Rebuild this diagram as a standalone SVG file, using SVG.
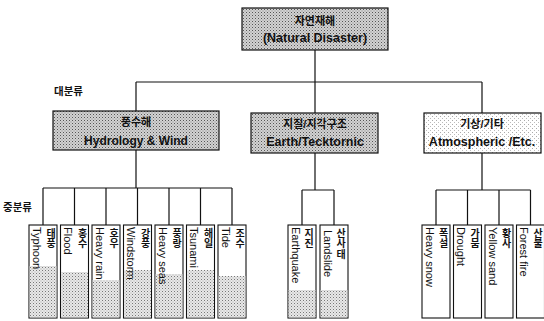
<svg xmlns="http://www.w3.org/2000/svg" width="544" height="321" viewBox="0 0 544 321">
<style>
.kb{font-family:"Liberation Sans","Noto Sans CJK KR",sans-serif;font-weight:bold;fill:#111;text-anchor:middle}
.en{font-family:"Liberation Sans","Noto Sans CJK KR",sans-serif;font-weight:bold;fill:#111;text-anchor:middle}
.lv{font-family:"Noto Sans CJK KR","Liberation Sans",sans-serif;font-weight:bold;font-size:10.5px;fill:#111}
.ko{font-family:"Noto Sans CJK KR","Liberation Sans",sans-serif;font-size:10px;font-weight:bold;fill:#111;writing-mode:vertical-rl;letter-spacing:0.5px}
.le{font-family:"Liberation Sans","Noto Sans CJK KR",sans-serif;font-size:11px;fill:#111}
.box{stroke:#111;stroke-width:1.2}
.leaf{fill:#fff;stroke:#111;stroke-width:1.1}
.conn{fill:none;stroke:#111;stroke-width:1.2}
</style>
<defs>
<pattern id="dark" width="3" height="3" patternUnits="userSpaceOnUse">
<rect width="3" height="3" fill="#d2d2d2"/>
<rect width="1" height="1" fill="#555"/>
<rect x="1.5" y="1.5" width="1" height="1" fill="#888"/>
</pattern>
<pattern id="light" width="4" height="4" patternUnits="userSpaceOnUse">
<rect width="4" height="4" fill="#fff"/>
<rect width="1" height="1" fill="#aaa"/>
<rect x="2" y="2" width="1" height="1" fill="#bbb"/>
</pattern>
<pattern id="mid" width="3" height="3" patternUnits="userSpaceOnUse">
<rect width="3" height="3" fill="#e8e8e8"/>
<rect width="1" height="1" fill="#777"/>
<rect x="1.5" y="1.5" width="1" height="1" fill="#aaa"/>
</pattern>
</defs>

<g id="connectors">
<path class="conn" d="M315 50 V113 M136 82 H482 M136 82 V111 M482 82 V113"/>
<path class="conn" d="M136 150 V188 M43 188 H232 M43 188 V225 M74.5 188 V225 M106 188 V225 M137.5 188 V225 M169 188 V225 M200.5 188 V225 M232 188 V225"/>
<path class="conn" d="M315 153 V190 M302 190 H334 M302 190 V225 M334 190 V225"/>
<path class="conn" d="M482 153 V190 M436 190 H530.5 M436 190 V225 M467.5 190 V225 M499 190 V225 M530.5 190 V225"/>
</g>

<g id="levels">
<text class="lv" x="54" y="95">대분류</text>
<text class="lv" x="3" y="211">중분류</text>
</g>

<g id="root">
<rect class="box" x="242" y="8" width="146" height="42" fill="url(#dark)"/>
<text class="kb" x="315" y="25" font-size="11">자연재해</text>
<text class="en" x="315" y="42" font-size="12.5">(Natural Disaster)</text>
</g>

<g id="cat-hydro">
<rect class="box" x="53" y="111" width="166" height="39" fill="url(#dark)"/>
<text class="kb" x="136" y="126" font-size="11">풍수해</text>
<text class="en" x="136" y="145" font-size="12">Hydrology &amp; Wind</text>
</g>
<g id="cat-earth">
<rect class="box" x="251" y="113" width="127" height="40" fill="url(#dark)"/>
<text class="kb" x="315" y="128" font-size="11">지질/지각구조</text>
<text class="en" x="315" y="146" font-size="12.5">Earth/Tecktornic</text>
</g>
<g id="cat-atmos">
<rect class="box" x="424" y="113" width="117" height="40" fill="url(#light)"/>
<text class="kb" x="482" y="128" font-size="11">기상/기타</text>
<text class="en" x="482" y="146" font-size="12.5">Atmospheric /Etc.</text>
</g>

<g id="leaf-typhoon">
<rect class="leaf" x="29" y="225" width="28" height="93"/>
<rect x="29.6" y="266" width="26.8" height="51.4" fill="url(#mid)"/>
<text class="le" x="32.5" y="227" transform="rotate(90 32.5 227)">Typhoon</text>
<text class="ko" x="51" y="228">태풍</text>
</g>
<g id="leaf-flood">
<rect class="leaf" x="60.5" y="225" width="28" height="93"/>
<rect x="61.1" y="272" width="26.8" height="45.4" fill="url(#mid)"/>
<text class="le" x="64" y="227" transform="rotate(90 64 227)">Flood</text>
<text class="ko" x="82.5" y="228">홍수</text>
</g>
<g id="leaf-heavyrain">
<rect class="leaf" x="92" y="225" width="28" height="93"/>
<rect x="92.6" y="280" width="26.8" height="37.4" fill="url(#mid)"/>
<text class="le" x="95.5" y="227" transform="rotate(90 95.5 227)">Heavy rain</text>
<text class="ko" x="114" y="228">호우</text>
</g>
<g id="leaf-windstorm">
<rect class="leaf" x="123.5" y="225" width="28" height="93"/>
<rect x="124.1" y="270" width="26.8" height="47.4" fill="url(#mid)"/>
<text class="le" x="127" y="227" transform="rotate(90 127 227)">Windstorm</text>
<text class="ko" x="145.5" y="228">강풍</text>
</g>
<g id="leaf-heavyseas">
<rect class="leaf" x="155" y="225" width="28" height="93"/>
<rect x="155.6" y="274" width="26.8" height="43.4" fill="url(#mid)"/>
<text class="le" x="158.5" y="227" transform="rotate(90 158.5 227)">Heavy seas</text>
<text class="ko" x="177" y="228">풍랑</text>
</g>
<g id="leaf-tsunami">
<rect class="leaf" x="186.5" y="225" width="28" height="93"/>
<rect x="187.1" y="270" width="26.8" height="47.4" fill="url(#mid)"/>
<text class="le" x="190" y="227" transform="rotate(90 190 227)">Tsunami</text>
<text class="ko" x="208.5" y="228">해일</text>
</g>
<g id="leaf-tide">
<rect class="leaf" x="218" y="225" width="28" height="93"/>
<rect x="218.6" y="276" width="26.8" height="41.4" fill="url(#mid)"/>
<text class="le" x="221.5" y="227" transform="rotate(90 221.5 227)">Tide</text>
<text class="ko" x="240" y="228">조수</text>
</g>

<g id="leaf-earthquake">
<rect class="leaf" x="288" y="225" width="28" height="93"/>
<rect x="288.6" y="290" width="26.8" height="27.4" fill="url(#mid)"/>
<text class="le" x="291.5" y="227" transform="rotate(90 291.5 227)">Earthquake</text>
<text class="ko" x="309" y="228">지진</text>
</g>
<g id="leaf-landslide">
<rect class="leaf" x="320" y="225" width="28" height="93"/>
<rect x="320.6" y="290" width="26.8" height="27.4" fill="url(#mid)"/>
<text class="le" x="323.5" y="230" transform="rotate(90 323.5 230)">Landslide</text>
<text class="ko" x="341" y="228">산사태</text>
</g>

<g id="leaf-heavysnow">
<rect class="leaf" x="422" y="225" width="28" height="93"/>
<text class="le" x="425.5" y="227" transform="rotate(90 425.5 227)">Heavy snow</text>
<text class="ko" x="443.5" y="228">폭설</text>
</g>
<g id="leaf-drought">
<rect class="leaf" x="453.5" y="225" width="28" height="93"/>
<text class="le" x="457" y="227" transform="rotate(90 457 227)">Drought</text>
<text class="ko" x="475" y="228">가뭄</text>
</g>
<g id="leaf-yellowsand">
<rect class="leaf" x="485" y="225" width="28" height="93"/>
<text class="le" x="488.5" y="227" transform="rotate(90 488.5 227)">Yellow sand</text>
<text class="ko" x="506.5" y="228">황사</text>
</g>
<g id="leaf-forestfire">
<rect class="leaf" x="516.5" y="225" width="28" height="93"/>
<text class="le" x="520" y="227" transform="rotate(90 520 227)">Forest fire</text>
<text class="ko" x="538" y="228">산불</text>
</g>
</svg>
